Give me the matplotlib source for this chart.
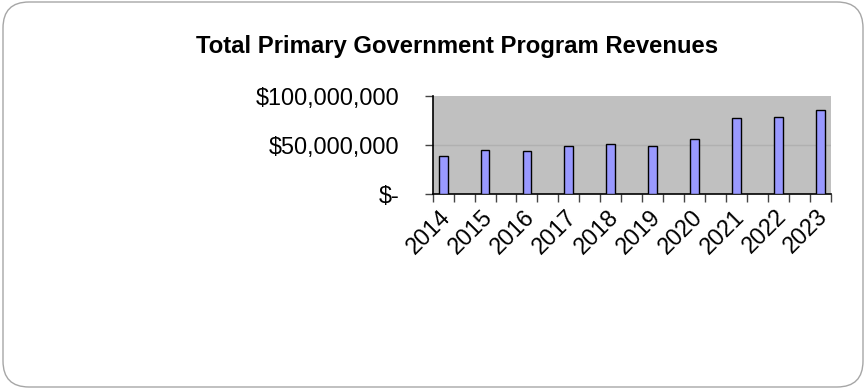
import matplotlib
matplotlib.use("Agg")
import matplotlib.pyplot as plt
import matplotlib.transforms as mtransforms
from matplotlib.patches import FancyBboxPatch
from matplotlib.ticker import FuncFormatter, FixedLocator
import numpy as np

plt.rcParams['font.family'] = ['Liberation Sans', 'DejaVu Sans']

# program revenues by fiscal year, in dollars
years = ["2014", "2015", "2016", "2017", "2018",
         "2019", "2020", "2021", "2022", "2023"]
revenues = [38.5e6, 44.3e6, 43.3e6, 48.3e6, 51.0e6,
            49.0e6, 56.0e6, 77.4e6, 78.4e6, 85.5e6]
y_ticks = [0, 50e6, 100e6]


def dollar_fmt(val, pos):
    # accounting style: zero shows as a dash
    if val == 0:
        return "$-"
    return "${:,.0f}".format(val)


fig = plt.figure(figsize=(8.66, 3.89), dpi=100)

# rounded frame round the whole chart
frame = FancyBboxPatch((3 / 866, 2 / 389), 860 / 866, 385 / 389,
                       boxstyle="round,pad=0,rounding_size=0.03",
                       transform=fig.transFigure, facecolor="none",
                       edgecolor="#a6a6a6", linewidth=1.0,
                       mutation_aspect=866 / 389, zorder=-1)
fig.patches.append(frame)

ax = fig.add_axes([432.7 / 866, 1 - 194 / 389, 398 / 866, 98.5 / 389])
ax.set_facecolor("#c0c0c0")

x = np.arange(len(years))
ax.bar(x, revenues, width=0.21, color="#9999ff", edgecolor="black",
       linewidth=1.0, zorder=3)

ax.set_xlim(-0.25, len(years) - 0.75)
ax.set_ylim(0, 100e6)

# y axis
ax.set_yticks(y_ticks)
ax.yaxis.set_major_formatter(FuncFormatter(dollar_fmt))
ax.tick_params(axis="y", direction="out", length=6, width=1, color="#444444",
               pad=18, labelsize=16.8)
ax.axhline(50e6, color="#b0b0b0", linewidth=1, zorder=1)

# x axis: labels under the bars, tick marks at every half slot
ax.xaxis.set_major_locator(FixedLocator(x))
ax.set_xticklabels(years, rotation=45, ha="right", rotation_mode="anchor",
                   fontsize=16.8)
ax.tick_params(axis="x", which="major", length=0, pad=8)
shift = mtransforms.ScaledTranslation(-4 / 100, 0, fig.dpi_scale_trans)
for lbl in ax.get_xticklabels():
    lbl.set_transform(lbl.get_transform() + shift)
ax.xaxis.set_minor_locator(FixedLocator(np.arange(-0.25, 9.3, 0.5)))
ax.tick_params(axis="x", which="minor", direction="out", length=6, width=1,
               color="#444444")

for side in ["top", "right"]:
    ax.spines[side].set_visible(False)
ax.spines["left"].set_color("black")
ax.spines["bottom"].set_color("black")
ax.spines["left"].set_linewidth(1.2)
ax.spines["bottom"].set_linewidth(1.2)

fig.text(457.5 / 866, 1 - 46 / 389, "Total Primary Government Program Revenues",
         ha="center", va="center", fontsize=17.2, fontweight="bold")

fig.savefig("out.png", dpi=100)
